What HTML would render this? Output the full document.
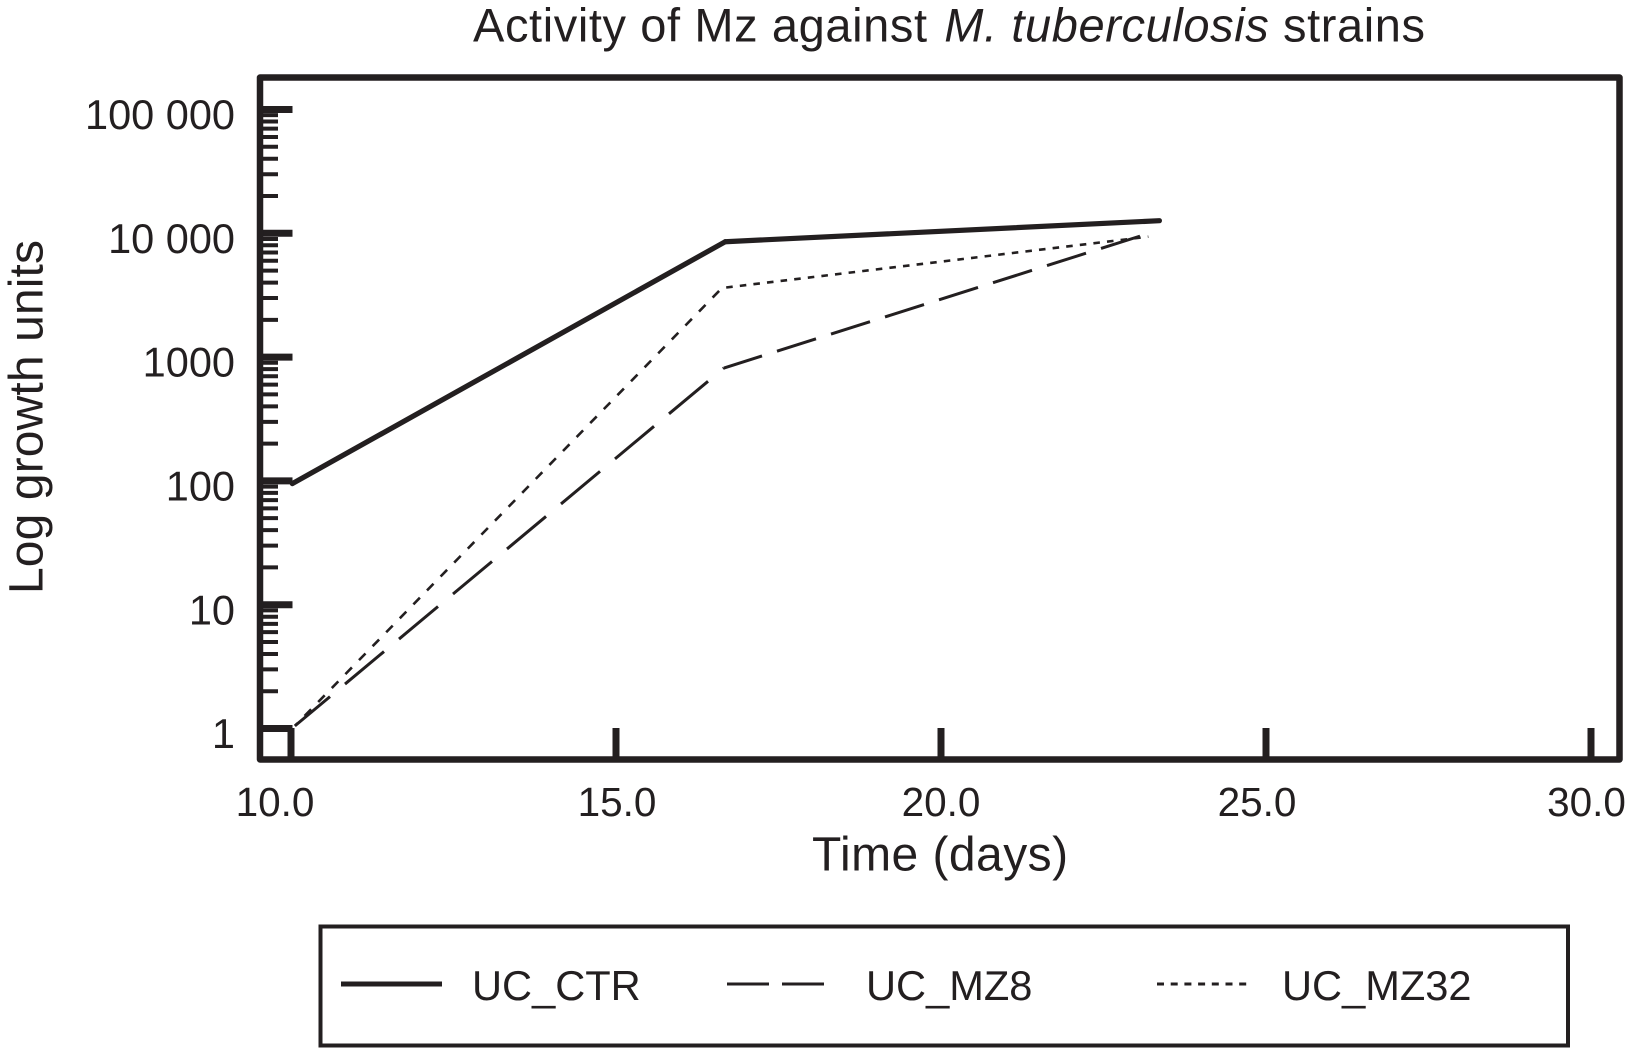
<!DOCTYPE html>
<html lang="en">
<head>
<meta charset="utf-8">
<title>Activity of Mz against M. tuberculosis strains</title>
<style>
  html, body { margin: 0; padding: 0; background: #fff; }
  svg { display: block; }
  text { font-family: "Liberation Sans", Arial, sans-serif; fill: #231f20; }
</style>
</head>
<body>
<svg id="chart" xmlns="http://www.w3.org/2000/svg" width="1628" height="1048" viewBox="0 0 1628 1048">
  <rect x="0" y="0" width="1628" height="1048" fill="#fff"/>
  <text x="473" y="41.5" font-size="47" letter-spacing="0.6">Activity of Mz against <tspan dx="3" font-style="italic">M. tuberculosis</tspan> strains</text>
  <g id="ticks"></g>
  <rect x="260" y="77.5" width="1359.5" height="682" fill="none" stroke="#231f20" stroke-width="6.5" stroke-linejoin="round"/>
  <g id="series"></g>
  <text transform="translate(42.5 594) rotate(-90)" font-size="48" textLength="354" lengthAdjust="spacing">Log growth units</text>
  <text x="812" y="870.5" font-size="48" letter-spacing="0.45">Time (days)</text>
  <g>
    <rect x="320.5" y="926.5" width="1247.5" height="119" fill="none" stroke="#231f20" stroke-width="4"/>
    <line x1="341" y1="984" x2="442" y2="984" stroke="#231f20" stroke-width="5"/>
    <text x="472" y="1000" font-size="41.6">UC_CTR</text>
    <line x1="727" y1="984" x2="824" y2="984" stroke="#231f20" stroke-width="3" stroke-dasharray="42 13"/>
    <text x="866" y="1000" font-size="41.6">UC_MZ8</text>
    <line x1="1157" y1="984" x2="1247" y2="984" stroke="#231f20" stroke-width="3" stroke-dasharray="7 6.7"/>
    <text x="1282" y="1000" font-size="41.6">UC_MZ32</text>
  </g>
</svg>
<script>
// Chart data
const xTickValues = [10, 15, 20, 25, 30];
const xTickLabels = ['10.0', '15.0', '20.0', '25.0', '30.0'];
const yTickValues = [1, 10, 100, 1000, 10000, 100000];
const yTickLabels = ['1', '10', '100', '1000', '10 000', '100 000'];
const minorMultipliers = [2, 3, 4, 5, 6, 7, 8, 9];

const ctrDays = [10.02, 16.68, 23.36];
const ctrValues = [95, 8550, 12640];
const mz8Days = [10.06, 16.66, 23.15];
const mz8Values = [1.05, 816, 9816];
const mz32Days = [10.06, 16.63, 23.19];
const mz32Values = [1.05, 3615, 9390];

// Axis functions
const INK = '#231f20';
const NS = 'http://www.w3.org/2000/svg';
function xScale(d) { return 291 + 65 * (d - 10); }
function yScale(v) { return 728.5 - 123.8 * Math.log10(v); }

function make(tag, attrs, parent) {
  const el = document.createElementNS(NS, tag);
  Object.keys(attrs).forEach(function (k) { el.setAttribute(k, attrs[k]); });
  parent.appendChild(el);
  return el;
}

const tickGroup = document.getElementById('ticks');
yTickValues.forEach(function (v, i) {
  const y = yScale(v);
  const tick = make('line', { x1: 260, x2: 292.5, y1: y, y2: y, stroke: INK, 'stroke-width': 7 }, tickGroup);
  
  
  const label = make('text', { x: 235, y: y + 19.6, 'text-anchor': 'end', 'font-size': 41.5 }, tickGroup);
  
  
  label.textContent = yTickLabels[i];
  if (i < yTickValues.length - 1) {
    minorMultipliers.forEach(function (m) {
      const my = yScale(v * m);
      const minor = make('line', { x1: 260, x2: 278, y1: my, y2: my, stroke: INK, 'stroke-width': 4 }, tickGroup);
      
      
    });
  }
});
xTickValues.forEach(function (d, i) {
  const x = xScale(d);
  const tick = make('line', { x1: x, x2: x, y1: 728, y2: 759, stroke: INK, 'stroke-width': 7 }, tickGroup);
  
  
  const labelShift = i === 0 ? -16 : (i === 4 ? -4.5 : (i === 1 ? 1 : (i === 3 ? -9 : 0)));
  const label = make('text', { x: x + labelShift, y: 816, 'text-anchor': 'middle', 'font-size': 40.5 }, tickGroup);
  
  
  label.textContent = xTickLabels[i];
});

// Dashes in the original are constant in horizontal extent, so each segment's
// dash pattern is stretched by its slope.
function drawSeries(days, values, width, dashOn, dashOff, name) {
  const group = document.getElementById('series');
  const g = make('g', {}, group);
  
  
  const period = dashOn + dashOff;
  for (let i = 0; i < days.length - 1; i++) {
    const x1 = xScale(days[i]), x2 = xScale(days[i + 1]);
    const y1 = yScale(values[i]), y2 = yScale(values[i + 1]);
    const seg = make('line', { x1: x1, y1: y1, x2: x2, y2: y2, stroke: INK, 'stroke-width': width, 'stroke-linecap': 'round' }, g);
    
    
    if (dashOn) {
      const ratio = Math.hypot(x2 - x1, y2 - y1) / (x2 - x1);
      const phase = (x1 - 291) % period;
      seg.setAttribute('stroke-linecap', 'butt');
      seg.setAttribute('stroke-dasharray', (dashOn * ratio) + ' ' + (dashOff * ratio));
      seg.setAttribute('stroke-dashoffset', phase * ratio);
    }
  }
}
drawSeries(ctrDays, ctrValues, 5.2, 0, 0, 'series-uc-ctr');
drawSeries(mz8Days, mz8Values, 3, 39, 15, 'series-uc-mz8');
drawSeries(mz32Days, mz32Values, 2.6, 6.5, 7.1, 'series-uc-mz32');
</script>
</body>
</html>
